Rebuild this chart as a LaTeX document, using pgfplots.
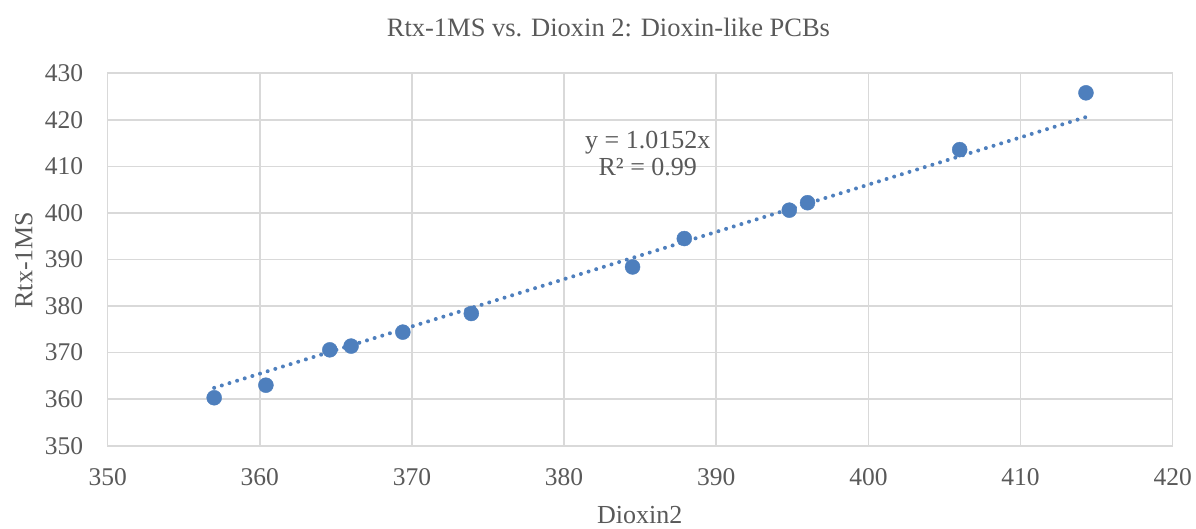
\documentclass[border=0pt]{standalone}
\usepackage{pgfplots}
\pgfplotsset{compat=1.18}
\usepackage{fontspec}
\setmainfont{Liberation Serif}

\definecolor{ptblue}{HTML}{4E7FBD}
\definecolor{gridgray}{HTML}{D9D9D9}
\definecolor{txtgray}{HTML}{595959}

\pgfplotstableread{
x y
357.0 360.3
360.4 363.0
364.6 370.6
366.0 371.4
369.4 374.4
373.9 378.4
384.5 388.4
387.9 394.5
394.8 400.6
396.0 402.2
406.0 413.6
414.3 425.8
}\pcbdata

\begin{document}
\begin{tikzpicture}
\begin{axis}[
    scale only axis,
    width=1065pt, height=372.4pt,
    xmin=350, xmax=420, ymin=350, ymax=430,
    xtick distance=10, ytick distance=10,
    grid=major,
    major grid style={gridgray, line width=1.6pt},
    axis line style={gridgray, line width=1.6pt},
    major tick length=0pt,
    tick label style={font=\fontsize{25.5}{30}\selectfont, text=txtgray},
    /pgf/number format/assume math mode=true,
    xticklabel style={yshift=-19pt},
    yticklabel style={xshift=-21pt},
    clip=false,
]
\path (rel axis cs:-0.1011,-0.2210) rectangle (rel axis cs:1.0219,1.1968);

\addplot[ptblue, line width=4pt, line cap=round, dash pattern=on 0pt off 8pt]
    coordinates {(357.0,362.43) (414.3,420.60)};

\addplot[only marks, mark=*, mark size=7.5pt, mark options={draw=ptblue, fill=ptblue}]
    table[x=x, y=y] {\pcbdata};

\node[font=\fontsize{26.5}{30}\selectfont, text=txtgray] at (rel axis cs:0.4702,1.1243)
    {Rtx-1MS vs. Dioxin 2: Dioxin-like PCBs};
\node[font=\fontsize{26}{30}\selectfont, text=txtgray] at (rel axis cs:0.4995,-0.1861) {Dioxin2};
\node[font=\fontsize{26}{30}\selectfont, text=txtgray, rotate=90] at (rel axis cs:-0.0786,0.4987) {Rtx-1MS};
\node[font=\fontsize{26}{30}\selectfont, text=txtgray, anchor=base] at (axis cs:385.5,413.95) {y = 1.0152x};
\node[font=\fontsize{26}{30}\selectfont, text=txtgray, anchor=base] at (axis cs:385.5,408.1) {R² = 0.99};
\end{axis}
\end{tikzpicture}
\end{document}
